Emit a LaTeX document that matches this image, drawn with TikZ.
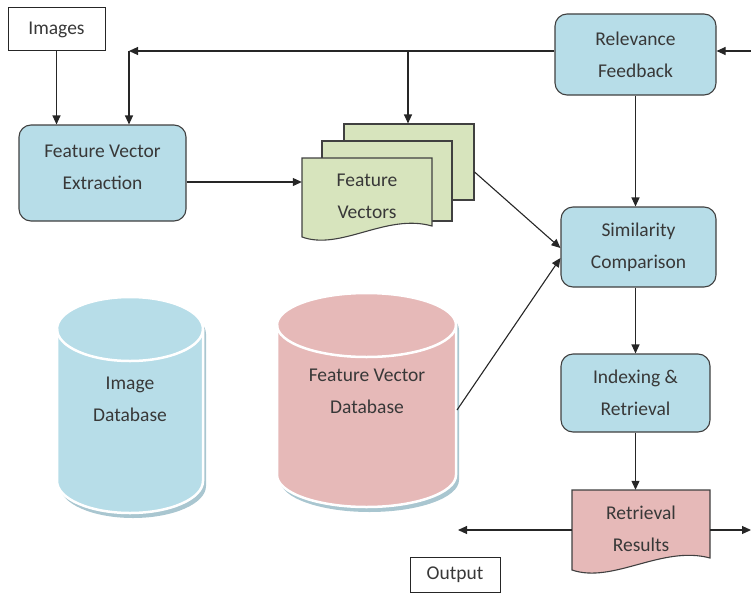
\documentclass[tikz,border=0pt]{standalone}
\usepackage{fontspec}
\setmainfont{Carlito}
\usetikzlibrary{arrows.meta,calc}
\definecolor{cblue}{HTML}{B7DDE8}
\definecolor{cgreen}{HTML}{D7E4BD}
\definecolor{cpink}{HTML}{E6B9B8}
\definecolor{cedge}{HTML}{404040}
\definecolor{cshadow}{HTML}{A9C6D0}
\newcommand\diagfont{\fontsize{19.5}{32}\selectfont}
\begin{document}
\begin{tikzpicture}[x=1pt,y=-1pt,
  rbox/.style={draw=cedge, line width=1.1pt, rounded corners=12pt, fill=cblue, inner sep=0pt, align=center, font=\diagfont, text=black!78},
  plain/.style={draw=black!85, line width=1pt, inner sep=0pt, align=center, font=\diagfont, text=black!78},
  docbg/.style={draw=cedge, line width=1.1pt, fill=cgreen, inner sep=0pt},
  docline/.style={draw=cedge, line width=1.1pt},
  txt/.style={align=center, font=\diagfont, text=black!78, inner sep=0pt},
  ghost/.style={inner sep=0pt},
  arr/.style={-{Triangle[length=9pt,width=8pt]}, line width=1.1pt, draw=black!85},
  cyl/.style={draw=white, line width=2.5pt}]
\useasboundingbox (0,0) rectangle (751,594);

% cylinders
\fill[cshadow] (60,334) -- (60,486) arc[start angle=180,end angle=360,x radius=73pt,y radius=32pt] -- (206,334) arc[start angle=0,end angle=180,x radius=73pt,y radius=32pt] -- cycle;
\filldraw[cyl, fill=cblue] (57,329) -- (57,481) arc[start angle=180,end angle=360,x radius=73pt,y radius=32pt] -- (203,329) arc[start angle=0,end angle=180,x radius=73pt,y radius=32pt] -- cycle;
\draw[cyl] (57,329) arc[start angle=180,end angle=360,x radius=73pt,y radius=32pt];
\node[txt] (idb) at (130,399) {Image\\Database};

\fill[cshadow] (280,330) -- (280,480) arc[start angle=180,end angle=360,x radius=89.5pt,y radius=32pt] -- (459,330) arc[start angle=0,end angle=180,x radius=89.5pt,y radius=32pt] -- cycle;
\filldraw[cyl, fill=cpink] (277,325) -- (277,475) arc[start angle=180,end angle=360,x radius=89.5pt,y radius=32pt] -- (456,325) arc[start angle=0,end angle=180,x radius=89.5pt,y radius=32pt] -- cycle;
\draw[cyl] (277,325) arc[start angle=180,end angle=360,x radius=89.5pt,y radius=32pt];
\node[txt] (fvdb) at (367,391) {Feature Vector\\Database};
\coordinate (fvdR) at (457,410);

% boxes
\node[plain, minimum width=97pt, minimum height=43pt] (img) at (56.5,29.5) {Images};
\node[rbox, minimum width=167pt, minimum height=96pt] (fve) at (102.5,173) {};
\node[txt] (fvet) at (102.5,167) {Feature Vector\\Extraction};
\node[rbox, minimum width=161pt, minimum height=81pt] (rf) at (635.5,54.5) {Relevance\\Feedback};
\node[rbox, minimum width=155pt, minimum height=80pt] (sc) at (638.5,247) {Similarity\\Comparison};
\node[rbox, minimum width=149pt, minimum height=78pt] (ir) at (635.5,393) {Indexing \&\\Retrieval};
\node[plain, minimum width=90pt, minimum height=35pt] (out) at (455,574.5) {Output};

% feature vectors stack
\node[docbg, minimum width=130pt, minimum height=76pt] (fvb) at (409,162) {};
\node[docbg, minimum width=130pt, minimum height=80pt] (fvm) at (387,181) {};
\node[ghost, minimum width=130pt, minimum height=80pt] (fvf) at (367,198) {};
\filldraw[docline, fill=cgreen] (302,158) -- (432,158) -- (432,226) .. controls (386,213) and (341,251) .. (302,237) -- cycle;
\node[txt] at (367,196) {Feature\\Vectors};

% retrieval results
\node[ghost, minimum width=138pt, minimum height=80pt] (rr) at (641,530) {};
\filldraw[docline, fill=cpink] (572,490) -- (710,490) -- (710,558) .. controls (662,545) and (613,584) .. (572,570) -- cycle;
\node[txt] at (641,529) {Retrieval\\Results};

% connectors
\coordinate (tl) at (129,51);
\coordinate (tap) at (408,51);
\coordinate (rin) at (751,51);
\coordinate (fy) at (0,182);
\coordinate (lo) at (458,530);
\coordinate (ro) at (751,530);
\draw[arr] (rf.west |- tl) -- (tl);
\draw[arr] (tl) -- (tl |- fve.north);
\draw[arr] (tap) -- (tap |- fvb.north);
\draw[arr] (rin) -- (rf.east |- rin);
\draw[arr] (img.south) -- (img.south |- fve.north);
\draw[arr] (fve.east |- fy) -- (fvf.west |- fy);
\draw[arr] ($(fvb.east)+(0,10)$) -- ($(sc.west)+(0,1)$);
\draw[arr] (fvdR) -- ($(sc.west)+(0,11)$);
\draw[arr] (rf.south) -- (rf.south |- sc.north);
\draw[arr] (ir.north |- sc.south) -- (ir.north);
\draw[arr] (ir.south) -- (ir.south |- rr.north);
\draw[arr] (rr.west) -- (lo);
\draw[arr] (rr.east) -- (ro);
\end{tikzpicture}
\end{document}
